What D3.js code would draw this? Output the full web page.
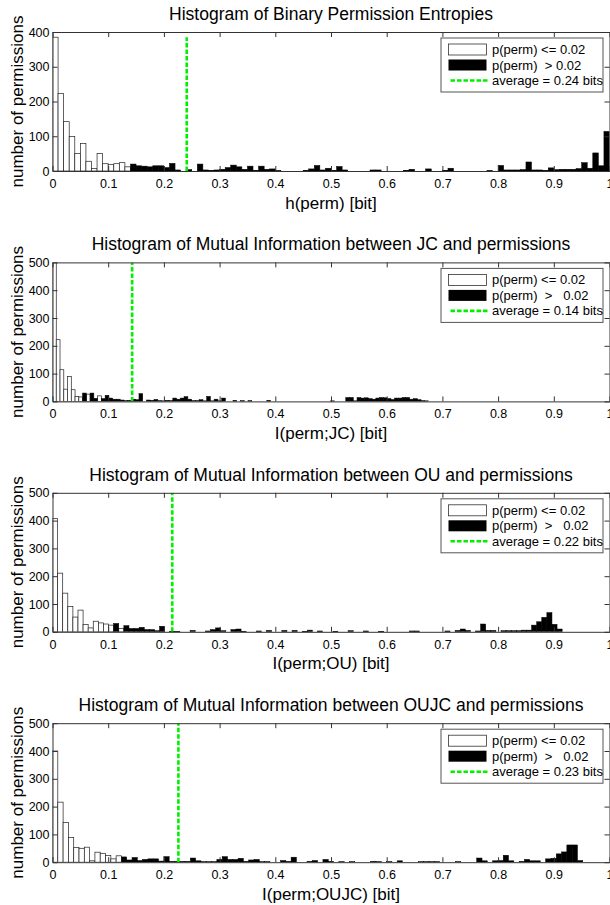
<html>
  <head>
    <meta charset="utf-8" />
    <title>Histograms of permission entropies</title>
    <style>
      body { margin: 0; background: #fff; }
      text { font-family: "Liberation Sans", Arial, sans-serif; fill: #000; }
    </style>
  </head>
  <body>
    <script src="https://cdn.jsdelivr.net/npm/d3@7"></script>
    <script>
      // ---- data ----
      const titles = [
        "Histogram of Binary Permission Entropies",
        "Histogram of Mutual Information between JC and permissions",
        "Histogram of Mutual Information between OU and permissions",
        "Histogram of Mutual Information between OUJC and permissions"
      ];
      const xLabels = ["h(perm) [bit]", "I(perm;JC) [bit]", "I(perm;OU) [bit]", "I(perm;OUJC) [bit]"];
      const legendLow = ["p(perm) <= 0.02", "p(perm) <= 0.02", "p(perm) <= 0.02", "p(perm) <= 0.02"];
      const legendHigh = ["p(perm)  > 0.02", "p(perm)  >   0.02", "p(perm)  >   0.02", "p(perm)  >   0.02"];
      const legendAvg = ["average = 0.24 bits", "average = 0.14 bits", "average = 0.22 bits", "average = 0.23 bits"];
      const averages = [0.241, 0.143, 0.215, 0.226];
      const averageTops = [385, 500, 500, 500];
      const yMax = [400, 500, 500, 500];
      const binMax = [1.0, 0.675, 0.915, 0.952]; // upper edge of the 100 histogram bins
      const xTicks = [0, 0.1, 0.2, 0.3, 0.4, 0.5, 0.6, 0.7, 0.8, 0.9, 1];

      // counts per bin, p(perm) <= 0.02 (only the first bins are non-zero)
      const white1 = [385, 223, 142, 99, 50, 79, 28, 7, 50, 21, 19, 21, 24, 12];
      const white2 = [540, 222, 114, 44, 90, 42, 18, 16, 0, 26, 0, 0, 20];
      const white3 = [408, 211, 139, 91, 53, 78, 26, 14, 38, 32, 28, 24, 0, 12];
      const white4 = [400, 216, 143, 89, 53, 50, 54, 5, 36, 32, 24, 12, 23];

      // counts per bin, p(perm) > 0.02
      const black1 = [
        0, 0, 0, 0, 0, 0, 0, 0, 0, 0,
        0, 0, 0, 0, 20, 15, 14, 12, 15, 15,
        10, 22, 3, 0, 4, 0, 20, 3, 2, 3,
        5, 10, 17, 12, 5, 14, 2, 14, 5, 6,
        1, 0, 0, 0, 0, 2, 6, 16, 3, 8,
        2, 13, 3, 0, 0, 0, 0, 3, 3, 0,
        0, 0, 0, 2, 5, 0, 0, 6, 0, 0,
        2, 8, 0, 0, 0, 0, 0, 0, 1, 0,
        16, 3, 3, 3, 4, 26, 3, 3, 2, 9,
        4, 5, 5, 5, 7, 24, 8, 52, 15, 114
      ];
      const black2 = [
        0, 0, 0, 0, 0, 0, 0, 0, 30, 0,
        30, 11, 0, 10, 22, 12, 8, 8, 5, 3,
        4, 8, 6, 28, 0, 5, 4, 7, 3, 2,
        4, 3, 12, 8, 12, 17, 8, 3, 3, 6,
        2, 18, 2, 8, 2, 12, 0, 0, 4, 0,
        3, 0, 3, 0, 0, 0, 0, 4, 0, 0,
        0, 0, 0, 0, 0, 0, 0, 0, 0, 0,
        0, 0, 0, 0, 2, 0, 0, 0, 14, 14,
        2, 14, 12, 13, 10, 8, 12, 14, 13, 10,
        7, 12, 12, 14, 14, 8, 10, 6, 3, 2
      ];
      const black3 = [
        0, 0, 0, 0, 0, 0, 0, 0, 0, 0,
        0, 0, 30, 0, 22, 12, 12, 16, 8, 8,
        4, 20, 0, 2, 2, 0, 0, 5, 0, 0,
        3, 8, 14, 4, 0, 8, 10, 2, 0, 0,
        3, 0, 5, 0, 0, 5, 0, 5, 0, 2,
        6, 0, 3, 0, 0, 2, 0, 0, 4, 0,
        0, 3, 0, 0, 2, 0, 0, 0, 0, 0,
        3, 3, 0, 0, 0, 0, 0, 3, 0, 5,
        10, 5, 0, 3, 28, 5, 5, 0, 4, 4,
        4, 4, 6, 6, 24, 36, 52, 69, 27, 10
      ];
      const black4 = [
        0, 0, 0, 0, 0, 0, 0, 0, 0, 0,
        0, 0, 0, 19, 8, 17, 6, 10, 12, 12,
        4, 20, 3, 3, 3, 3, 15, 5, 2, 2,
        2, 10, 20, 10, 10, 14, 3, 8, 10, 2,
        2, 0, 0, 6, 3, 18, 0, 0, 3, 6,
        0, 10, 3, 0, 2, 0, 2, 0, 0, 0,
        3, 2, 0, 2, 0, 5, 0, 0, 0, 2,
        2, 2, 2, 0, 0, 0, 2, 0, 0, 0,
        15, 5, 0, 5, 6, 25, 5, 0, 3, 10,
        5, 5, 0, 12, 14, 30, 37, 62, 62, 6
      ];
      const whites = [white1, white2, white3, white4];
      const blacks = [black1, black2, black3, black4];

      // ---- layout ----
      const width = 610;
      const height = 905;
      const left = 52.5;
      const right = 609.5;
      const plotH = 139;
      const tops = [32, 262.4, 492.8, 723.2];
      const green = "#00f000";
      const axisColor = "#333";

      let svg = d3
        .select("body")
        .append("svg")
        .attr("width", width)
        .attr("height", height)
        .style("display", "block");

      svg.append("rect").attr("width", width).attr("height", height).attr("fill", "#fff");

      const x = d3.scaleLinear().domain([0, 1]).range([left, right]);

      tops.forEach(function(top, k) {
        const bottom = top + plotH;
        const y = d3.scaleLinear().domain([0, yMax[k]]).range([bottom, top]);
        const bw = binMax[k] / 100;
        const bins = d3.range(100).map(function(i) {
          return { x0: i * bw, x1: (i + 1) * bw, w: whites[k][i] || 0, b: blacks[k][i] || 0 };
        });

        let g = svg.append("g");

        g.append("clipPath")
          .attr("id", "clip" + k)
          .append("rect")
          .attr("x", left)
          .attr("y", top)
          .attr("width", right - left)
          .attr("height", plotH);

        let plot = g.append("g").attr("clip-path", "url(#clip" + k + ")");

        // white bars
        plot.selectAll("rect.low")
          .data(bins.filter(d => d.w > 0))
          .enter()
          .append("rect")
          .attr("class", "low")
          .attr("x", d => x(d.x0))
          .attr("width", d => x(d.x1) - x(d.x0))
          .attr("y", d => y(d.w))
          .attr("height", d => y(0) - y(d.w))
          .attr("fill", "#fff")
          .attr("stroke", "#222")
          .attr("stroke-width", 0.7);

        // black bars
        plot.selectAll("rect.high")
          .data(bins.filter(d => d.b > 0))
          .enter()
          .append("rect")
          .attr("class", "high")
          .attr("x", d => x(d.x0))
          .attr("width", d => x(d.x1) - x(d.x0))
          .attr("y", d => y(d.b))
          .attr("height", d => y(0) - y(d.b))
          .attr("fill", "#000")
          .attr("stroke", "#000")
          .attr("stroke-width", 0.5);

        // average line
        plot.append("line")
          .attr("x1", x(averages[k]))
          .attr("x2", x(averages[k]))
          .attr("y1", y(0))
          .attr("y2", y(averageTops[k]))
          .attr("stroke", green)
          .attr("stroke-width", 2.6)
          .attr("stroke-dasharray", "4.5,2");

        // axes (box with inward ticks)
        let xb = g.append("g")
          .attr("transform", "translate(0," + bottom + ")")
          .call(d3.axisBottom(x).tickValues(xTicks).tickSize(-5).tickSizeOuter(0).tickPadding(8)
            .tickFormat(d3.format("~g")));
        let xt = g.append("g")
          .attr("transform", "translate(0," + top + ")")
          .call(d3.axisTop(x).tickValues(xTicks).tickSize(-5).tickSizeOuter(0).tickFormat(""));
        let yl = g.append("g")
          .attr("transform", "translate(" + left + ",0)")
          .call(d3.axisLeft(y).ticks(yMax[k] / 100).tickSize(-5).tickSizeOuter(0).tickPadding(3));
        let yr = g.append("g")
          .attr("transform", "translate(" + right + ",0)")
          .call(d3.axisRight(y).ticks(yMax[k] / 100).tickSize(-5).tickSizeOuter(0).tickFormat(""));

        [xb, xt, yl, yr].forEach(function(a) {
          a.selectAll("path, line").attr("stroke", axisColor).attr("stroke-width", 1);
          a.selectAll("text")
            .style("font-family", '"Liberation Sans", Arial, sans-serif')
            .style("font-size", "12.5px")
            .attr("fill", "#000");
        });

        // title and labels
        g.append("text")
          .attr("x", (left + right) / 2)
          .attr("y", top - 12)
          .attr("text-anchor", "middle")
          .style("font-size", "17.5px")
          .text(titles[k]);

        g.append("text")
          .attr("x", (left + right) / 2)
          .attr("y", bottom + 37.5)
          .attr("text-anchor", "middle")
          .style("font-size", "17px")
          .text(xLabels[k]);

        g.append("text")
          .attr("transform", "translate(23," + (top + bottom) / 2 + ") rotate(-90)")
          .attr("text-anchor", "middle")
          .style("font-size", "17px")
          .text("number of permissions");

        // legend
        const lx = 441;
        const ly = top + 6;
        let leg = g.append("g");
        leg.append("rect")
          .attr("x", lx)
          .attr("y", ly)
          .attr("width", 162)
          .attr("height", 54)
          .attr("fill", "#fff")
          .attr("stroke", "#555")
          .attr("stroke-width", 1);

        const rows = [ly + 11.5, ly + 27, ly + 42.5];
        leg.append("rect")
          .attr("x", lx + 7.5)
          .attr("y", rows[0] - 5.5)
          .attr("width", 38)
          .attr("height", 11)
          .attr("fill", "#fff")
          .attr("stroke", "#333")
          .attr("stroke-width", 0.8);
        leg.append("rect")
          .attr("x", lx + 7.5)
          .attr("y", rows[1] - 5.5)
          .attr("width", 38)
          .attr("height", 11)
          .attr("fill", "#000");
        leg.append("line")
          .attr("x1", lx + 9.5)
          .attr("x2", lx + 47.5)
          .attr("y1", rows[2])
          .attr("y2", rows[2])
          .attr("stroke", green)
          .attr("stroke-width", 2.6)
          .attr("stroke-dasharray", "4.5,2");

        [legendLow[k], legendHigh[k], legendAvg[k]].forEach(function(t, r) {
          leg.append("text")
            .attr("x", lx + 51)
            .attr("y", rows[r] + 4.5)
            .attr("xml:space", "preserve")
            .style("white-space", "pre")
            .style("font-size", "13px")
            .text(t);
        });
      });
    </script>
  </body>
</html>
